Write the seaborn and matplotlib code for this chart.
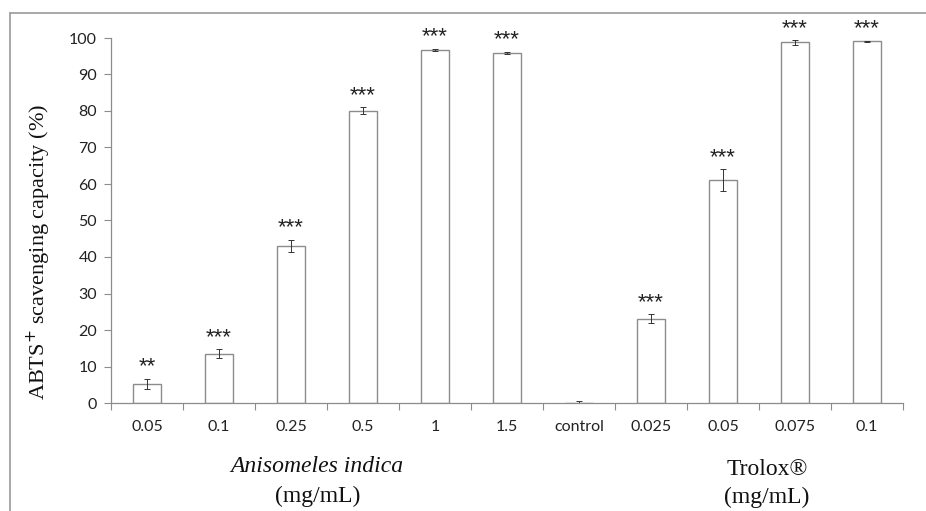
import matplotlib
matplotlib.use("Agg")
import matplotlib.pyplot as plt
from matplotlib.lines import Line2D
from matplotlib.ticker import FixedLocator
import numpy as np
import pandas as pd
import seaborn as sns

# Concentrations (mg/mL) for the extract, the control and Trolox
doses = ["0.05", "0.1", "0.25", "0.5", "1", "1.5", "control",
         "0.025", "0.05", "0.075", "0.1"]
groups = ["Anisomeles indica"] * 6 + ["control"] + ["Trolox"] * 4
scavenging = [5.3, 13.5, 43.0, 80.1, 96.8, 96.0, 0.0, 23.1, 61.0, 98.8, 99.1]
sem = [1.4, 1.2, 1.7, 0.9, 0.3, 0.3, 0.5, 1.2, 3.0, 0.6, 0.2]
significance = ["**", "***", "***", "***", "***", "***", "",
                "***", "***", "***", "***"]

df = pd.DataFrame({
    "key": [f"{g}|{d}" for g, d in zip(groups, doses)],
    "dose": doses,
    "value": scavenging,
    "sem": sem,
})

sns.set_style("white")
plt.rcParams["font.family"] = ["Lato", "DejaVu Sans"]

fig = plt.figure(figsize=(9.26, 5.11), dpi=100)
ax = fig.add_axes([111 / 926, 1 - 403 / 511, (903 - 111) / 926, (403 - 38) / 511])

sns.barplot(data=df, x="key", y="value", order=df["key"], color="white",
            edgecolor="#8c8c8c", linewidth=1.0, width=0.4, errorbar=None, ax=ax)

xpos = np.arange(len(df))
ax.errorbar(xpos, df["value"], yerr=df["sem"], fmt="none", ecolor="#333333",
            elinewidth=0.7, capsize=2.2, capthick=0.7)

for x, v, e, s in zip(xpos, df["value"], df["sem"], significance):
    if s:
        ax.annotate(s, xy=(x, v + e), xytext=(0, 4.5), textcoords="offset points",
                    ha="center", va="baseline", fontsize=16,
                    family=["Liberation Sans", "DejaVu Sans"], color="#222222")

ax.set_ylim(0, 100)
ax.set_xlim(-0.5, len(df) - 0.5)
ax.set_yticks(range(0, 101, 10))
ax.set_xticks(xpos)
ax.set_xticklabels(df["dose"])
ax.xaxis.set_minor_locator(FixedLocator(np.arange(-0.5, len(df), 1.0)))
ax.tick_params(axis="x", which="major", length=0, pad=12, labelsize=11.5,
               colors="#222222")
ax.tick_params(axis="x", which="minor", length=5, width=0.8, color="#8c8c8c",
               direction="out")
ax.tick_params(axis="y", length=5, width=0.8, color="#8c8c8c", direction="out",
               labelsize=11.5, labelcolor="#222222", pad=5)
ax.xaxis.set_ticks_position("bottom")
ax.yaxis.set_ticks_position("left")

for side in ["top", "right"]:
    ax.spines[side].set_visible(False)
for side in ["left", "bottom"]:
    ax.spines[side].set_color("#8c8c8c")
    ax.spines[side].set_linewidth(0.9)

ax.set_xlabel("")
ax.set_ylabel(r"ABTS$^{+}$ scavenging capacity (%)",
              family=["Liberation Serif", "DejaVu Serif"],
              fontsize=16, color="#111111", labelpad=10)
ax.yaxis.set_label_coords(-0.073, 0.415)

serif = ["Liberation Serif", "DejaVu Serif"]
fig.text(317 / 926, 1 - 466 / 511, "Anisomeles indica", ha="center", va="center",
         family=serif, style="italic", fontsize=17, color="#111111")
fig.text(318 / 926, 1 - 496 / 511, "(mg/mL)", ha="center", va="center",
         family=serif, fontsize=17, color="#111111")
fig.text(767 / 926, 1 - 469 / 511, "Trolox®", ha="center", va="center",
         family=serif, fontsize=17, color="#111111")
fig.text(767 / 926, 1 - 497 / 511, "(mg/mL)", ha="center", va="center",
         family=serif, fontsize=17, color="#111111")

# Outer frame around the chart area
fig.add_artist(Line2D([10 / 926, 1.0], [1 - 13 / 511] * 2,
                      transform=fig.transFigure, color="#999999", lw=1.2))
fig.add_artist(Line2D([10 / 926] * 2, [0.0, 1 - 13 / 511],
                      transform=fig.transFigure, color="#999999", lw=1.2))

fig.savefig("out.png", dpi=100, facecolor="white")
